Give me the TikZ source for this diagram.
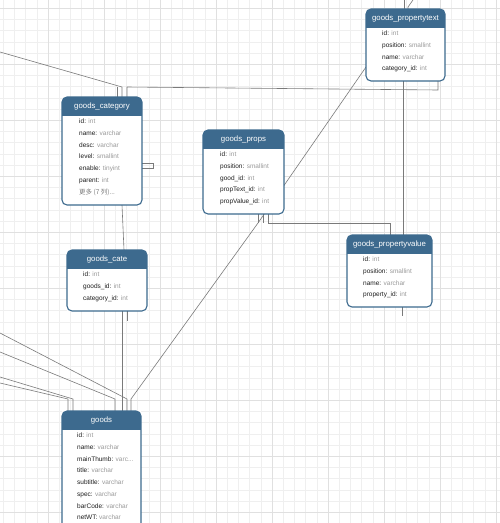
\documentclass[tikz,border=0pt]{standalone}
\usepackage{fontspec}
\setmainfont{Liberation Sans}
\newfontfamily\cjk{Noto Sans CJK SC}
\usetikzlibrary{calc}
\definecolor{hdrc}{HTML}{3D6A8E}
\definecolor{namec}{HTML}{1E1E1E}
\definecolor{typec}{HTML}{9A9A9A}
\definecolor{connc}{HTML}{7A7A7A}
\definecolor{gminc}{HTML}{EFEFEF}
\definecolor{gmajc}{HTML}{E0E0E0}
\pgfdeclarelayer{gridlayer}
\pgfdeclarelayer{connlayer}
\pgfsetlayers{gridlayer,connlayer,main}
\newcommand\ty[1]{\textcolor{typec}{#1}}
\newcommand\ertable[6]{%
  \node[tbox, minimum width=#4pt, minimum height=#5pt, anchor=north west] (#1) at (#2,#3) {};
  \begin{scope}
    \clip[rounded corners=5pt] (#1.north west) rectangle (#1.south east);
    \fill[hdrc] (#1.north west) rectangle ([yshift=-19pt]#1.north east);
  \end{scope}
  \draw[hdrc, line width=1.1pt, rounded corners=5pt] (#1.north west) rectangle (#1.south east);
  \node[ttl] (#1-t) at ([yshift=-9.8pt]#1.north) {#6};
}
\newcommand\errows[3]{%
  \foreach \r [count=\i from 0] in {#3} {
    \pgfmathsetmacro\yy{-25-11.75*\i}
    \node[fldt] (#1-r\i) at ([xshift=#2pt, yshift=\yy pt]#1.north west) {\r};
  }
}
\tikzset{
  tbox/.style={inner sep=0pt, outer sep=0pt, fill=white, draw=none},
  ttl/.style={text=white, font=\fontsize{7.8}{9}\selectfont, inner sep=0pt},
  fldt/.style={anchor=west, text=namec, font=\fontsize{6.5}{8}\selectfont, inner sep=0pt, text height=4.8pt, text depth=1.4pt},
  conn/.style={draw=connc, line width=0.6pt},
  gmin/.style={draw=gminc, line width=0.5pt},
  gmaj/.style={draw=gmajc, line width=0.5pt},
}
\begin{document}
\begin{tikzpicture}[x=1pt, y=-1pt]
\useasboundingbox (0,0) rectangle (500,523);

% tables
\ertable{ptxt}{366}{9}{79}{72}{goods\_propertytext}
\errows{ptxt}{16}{{id: \ty{int}},{position: \ty{smallint}},{name: \ty{varchar}},{category\_id: \ty{int}}}

\ertable{cat}{62}{97}{80}{108}{goods\_category}
\errows{cat}{17}{{id: \ty{int}},{name: \ty{varchar}},{desc: \ty{varchar}},{level: \ty{smallint}},{enable: \ty{tinyint}},{parent: \ty{int}},{\textcolor{typec!80!black}{\cjk 更多 (7 列)...}}}

\ertable{props}{203}{130}{81}{84}{goods\_props}
\errows{props}{17}{{id: \ty{int}},{position: \ty{smallint}},{good\_id: \ty{int}},{propText\_id: \ty{int}},{propValue\_id: \ty{int}}}

\ertable{pval}{347}{235}{85}{72}{goods\_propertyvalue}
\errows{pval}{16}{{id: \ty{int}},{position: \ty{smallint}},{name: \ty{varchar}},{property\_id: \ty{int}}}

\ertable{cate}{67}{250}{80}{61}{goods\_cate}
\errows{cate}{16}{{id: \ty{int}},{goods\_id: \ty{int}},{category\_id: \ty{int}}}

\ertable{goods}{62}{411}{79}{200}{goods}
\errows{goods}{15}{{id: \ty{int}},{name: \ty{varchar}},{mainThumb: \ty{varc...}},{title: \ty{varchar}},{subtitle: \ty{varchar}},{spec: \ty{varchar}},{barCode: \ty{varchar}},{netWT: \ty{varchar}}}

% background and grid
\begin{pgfonlayer}{gridlayer}
  \fill[white] (0,0) rectangle (500,523);
  \foreach \i in {0,...,45} {
    \pgfmathsetmacro\xx{3.2+11.2*\i}
    \draw[gmin] (\xx,0) -- (\xx,523);
  }
  \foreach \i in {-1,...,46} {
    \pgfmathsetmacro\yy{8.3+11.2*\i}
    \draw[gmin] (0,\yy) -- (500,\yy);
  }
  \foreach \i in {0,...,8} {
    \pgfmathsetmacro\xx{48+56*\i}
    \draw[gmaj] (\xx,0) -- (\xx,523);
  }
  \foreach \i in {0,...,9} {
    \pgfmathsetmacro\yy{8.3+56*\i}
    \draw[gmaj] (0,\yy) -- (500,\yy);
  }
\end{pgfonlayer}

% connectors
\begin{pgfonlayer}{connlayer}
  % far left to goods_category
  \coordinate (L1) at (0,52);
  \coordinate (k1) at (122,87);
  \draw[conn] (L1) -- (k1) -- (k1 |- cat.north);
  \coordinate (k0) at (117,87);
  \draw[conn] (k0) -- (k0 |- cat.north);
  % goods_propertytext -> goods_category
  \coordinate (k2) at (127,87);
  \coordinate (k3) at (438,90);
  \draw[conn] (k2 |- cat.north) -- (k2) -- (k3) -- (k3 |- ptxt.south);
  % goods_propertytext -> goods_propertyvalue
  \coordinate (k4) at (403,100);
  \draw[conn] (k4 |- ptxt.south) -- (k4 |- pval.north);
  % stubs above goods_propertytext
  \coordinate (t0) at (404,0);
  \draw[conn] (t0) -- (t0 |- ptxt.north);
  \coordinate (t1) at (413,0);
  \coordinate (t2) at (408,7);
  \draw[conn] (t1) -- (t2) -- (t2 |- ptxt.north);
  % self relation of goods_category
  \coordinate (s1) at (153,163);
  \coordinate (s2) at (153,168);
  \draw[conn] (s1 -| cat.east) -- (s1) -- (s2) -- (s2 -| cat.east);
  % goods_category -> goods_cate
  \coordinate (m1) at (122,0);
  \coordinate (m2) at (124,0);
  \draw[conn] (m1 |- cat.south) -- (m2 |- cate.north);
  % goods_cate -> goods
  \coordinate (g1) at (122,0);
  \draw[conn] (g1 |- cate.south) -- (g1 |- goods.north);
  \coordinate (g2) at (127,321);
  \draw[conn] (g2 |- cate.south) -- (g2);
  % goods_props
  \coordinate (p1) at (258,223);
  \coordinate (p2) at (263,223);
  \coordinate (p3) at (268,223);
  \coordinate (p4) at (390,223);
  \draw[conn] (p1 |- props.south) -- (p1);
  \draw[conn] (p2 |- props.south) -- (p2);
  \draw[conn] (p3 |- props.south) -- (p3) -- (p4) -- (p4 |- pval.north);
  \coordinate (q1) at (366,67);
  \draw[conn] (q1) -- (p1);
  \coordinate (q2) at (131,399);
  \draw[conn] (p1) -- (q2) -- (q2 |- goods.north);
  % lines from the left into goods
  \coordinate (a1) at (0,333);  \coordinate (b1) at (127,399);
  \coordinate (a2) at (0,352);  \coordinate (b2) at (115,399);
  \coordinate (a3) at (0,377);  \coordinate (b3) at (73,399);
  \coordinate (a4) at (0,383);  \coordinate (b4) at (68,399);
  \draw[conn] (a1) -- (b1) -- (b1 |- goods.north);
  \draw[conn] (a2) -- (b2) -- (b2 |- goods.north);
  \draw[conn] (a3) -- (b3) -- (b3 |- goods.north);
  \draw[conn] (a4) -- (b4) -- (b4 |- goods.north);
  % stub below goods_propertyvalue
  \coordinate (v1) at (402,316);
  \draw[conn] (v1 |- pval.south) -- (v1);
\end{pgfonlayer}
\end{tikzpicture}
\end{document}
